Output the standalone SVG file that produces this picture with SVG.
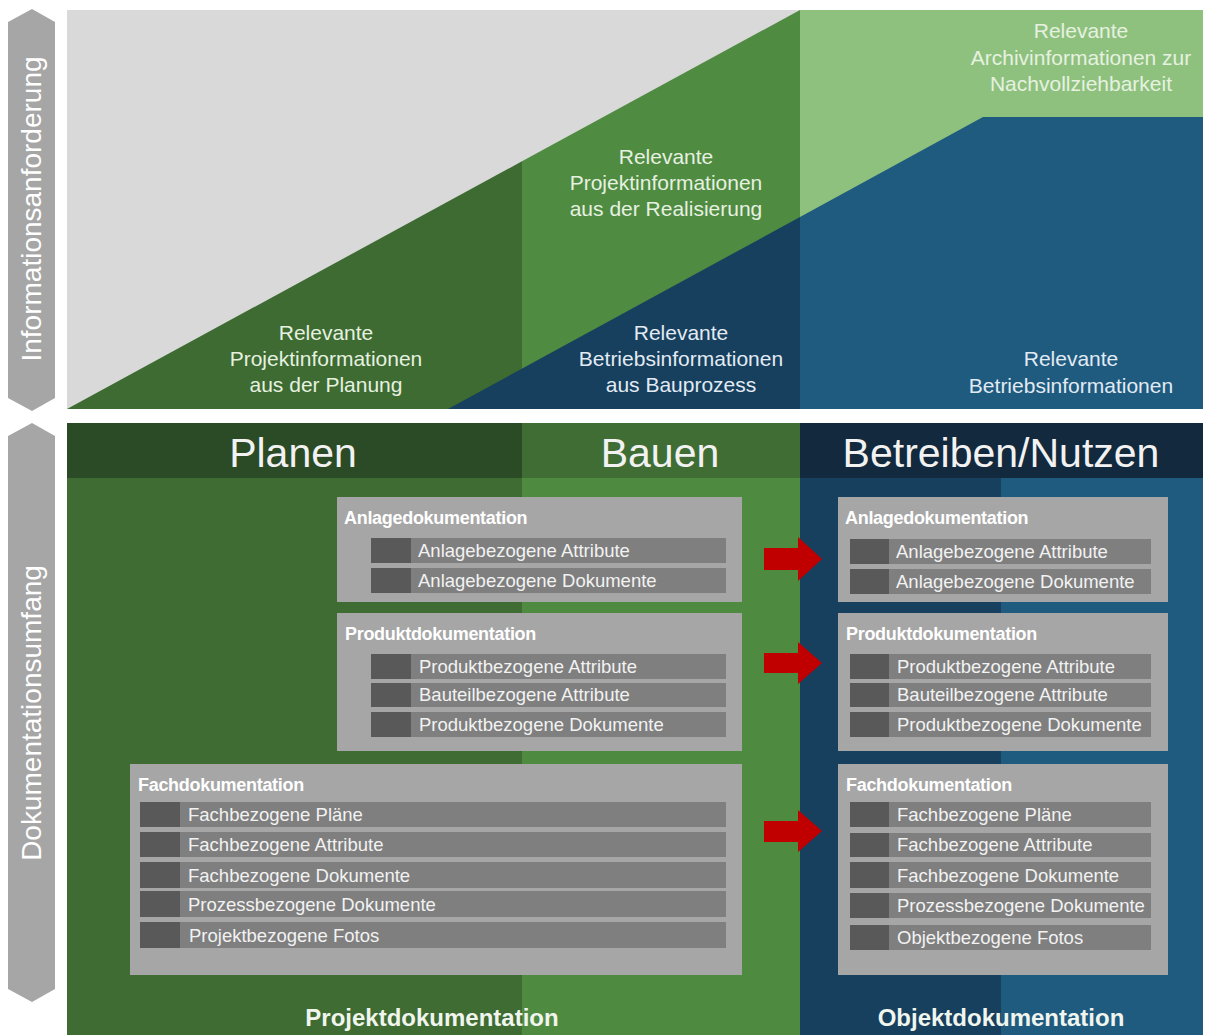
<svg xmlns="http://www.w3.org/2000/svg" width="1208" height="1035" viewBox="0 0 1208 1035">
<style>
text{font-family:"Liberation Sans",Arial,sans-serif;}
.side{fill:#ffffff;font-size:28px;text-anchor:middle;}
.top{font-size:21px;text-anchor:middle;}
.tg{fill:#e6f1e0;}
.tb{fill:#e2ebf3;}
.hdr{fill:#f2f2f2;font-size:41px;text-anchor:middle;}
.box{fill:#a6a6a6;}
.row{fill:#7f7f7f;}
.sq{fill:#595959;}
.btitle{fill:#ffffff;font-size:18px;font-weight:bold;letter-spacing:-0.3px;}
.rtxt{fill:#f2f2f2;font-size:18.5px;}
.foot{fill:#f0f5ee;font-size:24px;font-weight:bold;text-anchor:middle;}
.arrow{fill:#c00000;}
</style>
<rect width="1208" height="1035" fill="#ffffff"/>

<g id="axis-information">
<polygon points="32,9 55,22 55,398 32,411 8,398 8,22" fill="#a6a6a6"/>
<text class="side" transform="translate(41,209) rotate(-90)">Informationsanforderung</text>
</g>
<g id="axis-documentation">
<polygon points="32,423 55,436 55,989 32,1002 8,989 8,436" fill="#a6a6a6"/>
<text class="side" transform="translate(41,713) rotate(-90)">Dokumentationsumfang</text>
</g>

<g id="information-chart">
<rect x="67" y="10" width="1136" height="399" fill="#d9d9d9"/>
<polygon points="522,161.3 800,10 800,409 522,409" fill="#508b42"/>
<polygon points="67,409 522,161.3 522,409" fill="#3d6b31"/>
<rect x="800" y="10" width="403" height="399" fill="#8fc17e"/>
<polygon points="448,409 800,217 800,409" fill="#173f5e"/>
<polygon points="800,217 983,117 1203,117 1203,409 800,409" fill="#1f5a7f"/>
</g>

<g id="info-planung">
<text class="top tg" x="326" y="340">Relevante</text>
<text class="top tg" x="326" y="366">Projektinformationen</text>
<text class="top tg" x="326" y="392">aus der Planung</text>
</g>
<g id="info-realisierung">
<text class="top tg" x="666" y="164">Relevante</text>
<text class="top tg" x="666" y="190">Projektinformationen</text>
<text class="top tg" x="666" y="216">aus der Realisierung</text>
</g>
<g id="info-bauprozess">
<text class="top tb" x="681" y="340">Relevante</text>
<text class="top tb" x="681" y="366">Betriebsinformationen</text>
<text class="top tb" x="681" y="392">aus Bauprozess</text>
</g>
<g id="info-archiv">
<text class="top tg" x="1081" y="38">Relevante</text>
<text class="top tg" x="1081" y="65">Archivinformationen zur</text>
<text class="top tg" x="1081" y="91">Nachvollziehbarkeit</text>
</g>
<g id="info-betrieb">
<text class="top tb" x="1071" y="366">Relevante</text>
<text class="top tb" x="1071" y="393">Betriebsinformationen</text>
</g>

<g id="phase-planen">
<rect x="67" y="478" width="455" height="557" fill="#3e6c32"/>
<rect x="67" y="423" width="455" height="55" fill="#2b4a26"/>
<text class="hdr" x="293" y="467">Planen</text>
</g>
<g id="phase-bauen">
<rect x="522" y="478" width="278" height="557" fill="#4f8a41"/>
<rect x="522" y="423" width="278" height="55" fill="#3f6d34"/>
<text class="hdr" x="660" y="467">Bauen</text>
</g>
<g id="phase-betreiben">
<rect x="800" y="478" width="201" height="557" fill="#173f5e"/>
<rect x="1001" y="478" width="202" height="557" fill="#1f5a7f"/>
<rect x="800" y="423" width="403" height="55" fill="#13293d"/>
<text class="hdr" x="1001" y="467">Betreiben/Nutzen</text>
</g>

<g id="left-anlage">
<rect class="box" x="337" y="497" width="405" height="105"/>
<text class="btitle" x="344" y="524">Anlagedokumentation</text>
<rect class="row" x="371" y="538" width="355" height="25"/><rect class="sq" x="371" y="538" width="40" height="25"/>
<text class="rtxt" x="418" y="557">Anlagebezogene Attribute</text>
<rect class="row" x="371" y="568" width="355" height="25"/><rect class="sq" x="371" y="568" width="40" height="25"/>
<text class="rtxt" x="418" y="587">Anlagebezogene Dokumente</text>
</g>
<g id="left-produkt">
<rect class="box" x="337" y="613" width="405" height="138"/>
<text class="btitle" x="345" y="640">Produktdokumentation</text>
<rect class="row" x="371" y="654" width="355" height="25"/><rect class="sq" x="371" y="654" width="40" height="25"/>
<text class="rtxt" x="419" y="673">Produktbezogene Attribute</text>
<rect class="row" x="371" y="683" width="355" height="24"/><rect class="sq" x="371" y="683" width="40" height="24"/>
<text class="rtxt" x="419" y="701">Bauteilbezogene Attribute</text>
<rect class="row" x="371" y="712" width="355" height="25"/><rect class="sq" x="371" y="712" width="40" height="25"/>
<text class="rtxt" x="419" y="731">Produktbezogene Dokumente</text>
</g>
<g id="left-fach">
<rect class="box" x="130" y="764" width="612" height="211"/>
<text class="btitle" x="138" y="791">Fachdokumentation</text>
<rect class="row" x="140" y="802" width="586" height="25"/><rect class="sq" x="140" y="802" width="40" height="25"/>
<text class="rtxt" x="188" y="821">Fachbezogene Pläne</text>
<rect class="row" x="140" y="832" width="586" height="25"/><rect class="sq" x="140" y="832" width="40" height="25"/>
<text class="rtxt" x="188" y="851">Fachbezogene Attribute</text>
<rect class="row" x="140" y="862" width="586" height="26"/><rect class="sq" x="140" y="862" width="40" height="26"/>
<text class="rtxt" x="188" y="882">Fachbezogene Dokumente</text>
<rect class="row" x="140" y="891" width="586" height="26"/><rect class="sq" x="140" y="891" width="40" height="26"/>
<text class="rtxt" x="188" y="911">Prozessbezogene Dokumente</text>
<rect class="row" x="140" y="922" width="586" height="26"/><rect class="sq" x="140" y="922" width="40" height="26"/>
<text class="rtxt" x="189" y="942">Projektbezogene Fotos</text>
</g>

<g id="right-anlage">
<rect class="box" x="838" y="497" width="330" height="105"/>
<text class="btitle" x="845" y="524">Anlagedokumentation</text>
<rect class="row" x="850" y="539" width="301" height="25"/><rect class="sq" x="850" y="539" width="39" height="25"/>
<text class="rtxt" x="896" y="558">Anlagebezogene Attribute</text>
<rect class="row" x="850" y="569" width="301" height="25"/><rect class="sq" x="850" y="569" width="39" height="25"/>
<text class="rtxt" x="896" y="588">Anlagebezogene Dokumente</text>
</g>
<g id="right-produkt">
<rect class="box" x="838" y="613" width="330" height="138"/>
<text class="btitle" x="846" y="640">Produktdokumentation</text>
<rect class="row" x="850" y="654" width="301" height="25"/><rect class="sq" x="850" y="654" width="39" height="25"/>
<text class="rtxt" x="897" y="673">Produktbezogene Attribute</text>
<rect class="row" x="850" y="683" width="301" height="24"/><rect class="sq" x="850" y="683" width="39" height="24"/>
<text class="rtxt" x="897" y="701">Bauteilbezogene Attribute</text>
<rect class="row" x="850" y="712" width="301" height="25"/><rect class="sq" x="850" y="712" width="39" height="25"/>
<text class="rtxt" x="897" y="731">Produktbezogene Dokumente</text>
</g>
<g id="right-fach">
<rect class="box" x="838" y="764" width="330" height="211"/>
<text class="btitle" x="846" y="791">Fachdokumentation</text>
<rect class="row" x="850" y="802" width="301" height="25"/><rect class="sq" x="850" y="802" width="39" height="25"/>
<text class="rtxt" x="897" y="821">Fachbezogene Pläne</text>
<rect class="row" x="850" y="833" width="301" height="24"/><rect class="sq" x="850" y="833" width="39" height="24"/>
<text class="rtxt" x="897" y="851">Fachbezogene Attribute</text>
<rect class="row" x="850" y="862" width="301" height="26"/><rect class="sq" x="850" y="862" width="39" height="26"/>
<text class="rtxt" x="897" y="882">Fachbezogene Dokumente</text>
<rect class="row" x="850" y="893" width="301" height="25"/><rect class="sq" x="850" y="893" width="39" height="25"/>
<text class="rtxt" x="897" y="912">Prozessbezogene Dokumente</text>
<rect class="row" x="850" y="925" width="301" height="25"/><rect class="sq" x="850" y="925" width="39" height="25"/>
<text class="rtxt" x="897" y="944">Objektbezogene Fotos</text>
</g>

<g id="connectors">
<polygon class="arrow" points="764,548 798,548 798,537 822,559 798,581 798,570 764,570"/>
<polygon class="arrow" points="764,653 798,653 798,642 822,663 798,684 798,673 764,673"/>
<polygon class="arrow" points="764,821 798,821 798,810 822,831 798,852 798,842 764,842"/>
</g>

<g id="footer-projekt">
<text class="foot" x="432" y="1026">Projektdokumentation</text>
</g>
<g id="footer-objekt">
<text class="foot" x="1001" y="1026">Objektdokumentation</text>
</g>
</svg>
